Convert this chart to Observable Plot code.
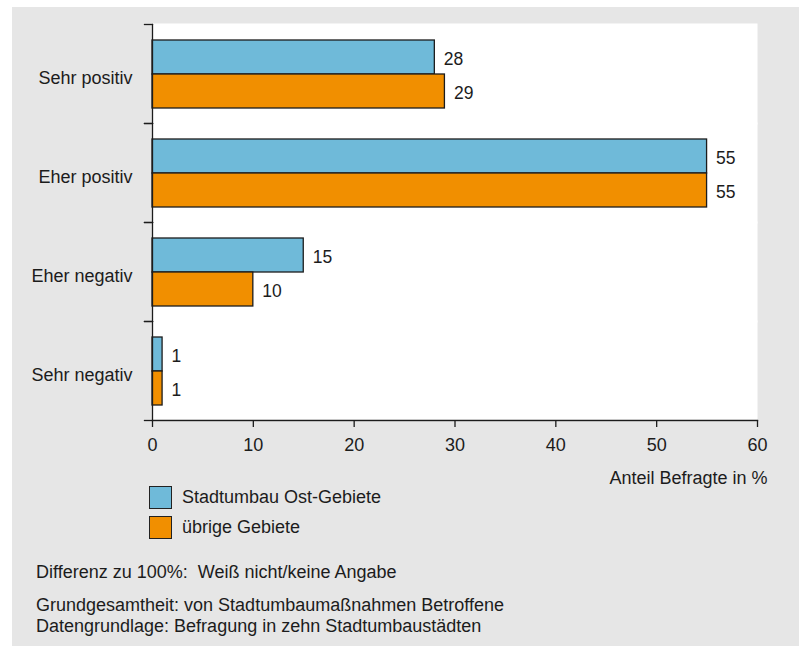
<!DOCTYPE html>
<html>
<head>
<meta charset="utf-8">
<script src="https://cdn.jsdelivr.net/npm/d3@7"></script>
<script src="https://cdn.jsdelivr.net/npm/@observablehq/plot@0.6"></script>
<style>
  html, body { margin: 0; padding: 0; background: #ffffff; }
  #fig {
    position: absolute; left: 12px; top: 7px; width: 787px; height: 639px;
    background: #e6e6e6; color: #1c1c1c;
    font-family: "Liberation Sans", Arial, Helvetica, sans-serif; font-size: 18px;
  }
  #chart { position: absolute; left: 0; top: 0; }
  #legend { position: absolute; left: 137px; top: 479px; }
  .row { display: flex; align-items: center; height: 23px; margin-bottom: 7px; }
  .swatch { width: 21px; height: 21px; border: 1px solid #222; margin-right: 10px; }
  #notes { position: absolute; left: 24px; top: 555px; line-height: 21.6px; }
  #notes .first { margin-bottom: 11px; }
</style>
</head>
<body>
<div id="fig">
  <div id="chart"></div>
  <div id="legend"></div>
  <div id="notes"></div>
</div>
<script>
// Survey answers and the share of respondents (%) in each group
const categories = ["Sehr positiv", "Eher positiv", "Eher negativ", "Sehr negativ"];
const seriesNames = ["Stadtumbau Ost-Gebiete", "übrige Gebiete"];
const ostValues = [28, 55, 15, 1];
const uebrigeValues = [29, 55, 10, 1];
const seriesColors = ["#6fbad9", "#f18f00"];
const xTicks = [0, 10, 20, 30, 40, 50, 60];
const xLabel = "Anteil Befragte in %";
const noteFirst = "Differenz zu 100%:\u00a0 Weiß nicht/keine Angabe";
const noteLines = [
  "Grundgesamtheit: von Stadtumbaumaßnahmen Betroffene",
  "Datengrundlage: Befragung in zehn Stadtumbaustädten"
];

const rows = categories.flatMap((category, i) => [
  {category, series: seriesNames[0], value: ostValues[i]},
  {category, series: seriesNames[1], value: uebrigeValues[i]}
]);

const W = 787, H = 476;
const mLeft = 140, mRight = 42, mTop = 17, mBottom = 63;
const innerW = W - mLeft - mRight;
const ink = "#1c1c1c";
const lastCategory = () => categories[categories.length - 1];

const chart = Plot.plot({
  width: W,
  height: H,
  marginLeft: mLeft,
  marginRight: mRight,
  marginTop: mTop,
  marginBottom: mBottom,
  style: {
    background: "transparent",
    fontFamily: "'Liberation Sans', Arial, Helvetica, sans-serif",
    fontSize: "18px",
    color: ink,
    overflow: "visible"
  },
  x: {domain: [0, 60]},
  y: {domain: seriesNames, paddingInner: 0, paddingOuter: 0.435, axis: null},
  fy: {domain: categories, padding: 0},
  color: {domain: seriesNames, range: seriesColors},
  marks: [
    // white plotting area; each group panel overlaps its neighbours slightly so no seam shows
    Plot.frame({fill: "white", insetTop: -1, insetBottom: -1}),
    Plot.barX(rows, {
      x: "value", y: "series", fy: "category", fill: "series",
      stroke: ink, strokeWidth: 1.3
    }),
    Plot.text(rows, {
      x: "value", y: "series", fy: "category", text: (d) => String(d.value),
      textAnchor: "start", dx: 9, dy: 1.5, fontSize: 17.5, fill: ink
    }),
    // vertical category axis line and the boundary ticks between the answer groups
    Plot.frame({anchor: "left", stroke: ink, strokeWidth: 1.3}),
    Plot.frame({anchor: "top", insetLeft: -8, insetRight: innerW, stroke: ink, strokeWidth: 1.3}),
    Plot.frame({anchor: "bottom", insetLeft: -8, insetRight: innerW, stroke: ink, strokeWidth: 1.3}),
    // horizontal value axis line under the last group
    Plot.frame({anchor: "bottom", fy: lastCategory, stroke: ink, strokeWidth: 1.3}),
    Plot.axisFy({anchor: "left", tickSize: 0, tickPadding: 20, dy: 4.5, label: null, fontSize: 18}),
    Plot.axisX({ticks: xTicks, tickSize: 7, tickPadding: 11, label: null, stroke: ink, strokeWidth: 1.3, fontSize: 18}),
    // value axis title, right-aligned just past the end of the axis
    Plot.text([xLabel], {
      fy: lastCategory, frameAnchor: "bottom-right", textAnchor: "end",
      lineAnchor: "middle", dx: 10, dy: 58, fontSize: 18, fill: ink
    })
  ]
});
document.getElementById("chart").appendChild(chart);

// Legend built from the chart's own colour scale
const color = chart.scale("color");
const legend = d3.select("#legend");
color.domain.forEach((name, i) => {
  const row = legend.append("div").attr("class", "row");
  row.append("div").attr("class", "swatch").style("background", color.range[i]);
  row.append("span").text(name);
});

const notes = d3.select("#notes");
notes.append("div").attr("class", "first").text(noteFirst);
noteLines.forEach((t) => notes.append("div").text(t));
</script>
</body>
</html>
